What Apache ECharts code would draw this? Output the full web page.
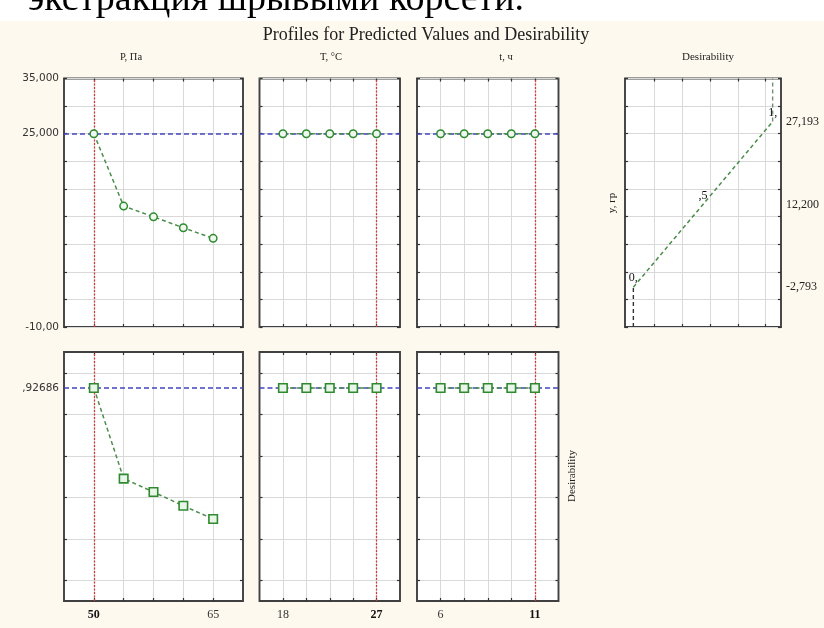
<!DOCTYPE html>
<html>
<head>
<meta charset="utf-8">
<script src="https://cdn.jsdelivr.net/npm/echarts@6/dist/echarts.min.js"></script>
<style>
html,body{margin:0;padding:0;background:#fdf9ee;}
#chart{width:824px;height:628px;}
</style>
</head>
<body>
<div id="chart"></div>
<script>
// ---- data ----
const pValues    = [50, 53.75, 57.5, 61.25, 65];
const tempValues = [18, 20.25, 22.5, 24.75, 27];
const timeValues = [6, 7.25, 8.5, 9.75, 11];
const predP    = [25.0, 11.9, 9.95, 7.97, 6.05];
const predTemp = [25.0, 25.0, 25.0, 25.0, 25.0];
const predTime = [25.0, 25.0, 25.0, 25.0, 25.0];
const desP    = [0.92686, 0.490, 0.425, 0.359, 0.295];
const desTemp = [0.92686, 0.92686, 0.92686, 0.92686, 0.92686];
const desTime = [0.92686, 0.92686, 0.92686, 0.92686, 0.92686];
const currentP = 50, currentTemp = 27, currentTime = 11;
const predictedValue = 25.0;
const currentDesirability = 0.92686;
const desirLevels  = [0, 0.5, 1];
const desirYValues = [-2.793, 12.2, 27.193];
const desirLabels  = ['0,', ',5', '1,'];
const topYTickValues = [35, 25, -10];
const topYTickLabels = ['35,000', '25,000', '-10,00'];
const desLabelText = ',92686';
const xLabelP = [50, 65], xLabelTemp = [18, 27], xLabelTime = [6, 11];
const panelTitles = ['P, Па', 'T, °C', 't, ч', 'Desirability'];
const mainTitle = 'Profiles for Predicted Values and Desirability';
const topText = 'экстракция шрывыми корсети.';

// ---- layout ----
const TOP1 = 78.5, H1 = 248.5, TOP2 = 352, H2 = 249;
const cols = [{left: 64, width: 179}, {left: 259.5, width: 140.5}, {left: 417, width: 141.5}];
const desGrid = {left: 625, width: 156};
const yTop = {min: -10, max: 35};
const yBot = {min: -0.1, max: 1.1};
const xRanges = [
  {min: 46.25, max: 68.75, ticks: pValues, labels: xLabelP, cur: currentP},
  {min: 15.75, max: 29.25, ticks: tempValues, labels: xLabelTemp, cur: currentTemp},
  {min: 4.75, max: 12.25, ticks: timeValues, labels: xLabelTime, cur: currentTime}
];
const topYTicks = [-10,-5,0,5,10,15,20,25,30,35];
const botYTicks = [0,0.2,0.4,0.6,0.8,1.0];
const desXTicks = [0.15,0.35,0.55,0.75,0.95];

const serif = 'Liberation Serif';
const sans = 'DejaVu Sans';
const gridCol = '#d9d9d9';
const tickCol = '#333';

const grids = [], xAxes = [], yAxes = [], series = [];

function addGrid(left, top, width, height) {
  grids.push({left, top, width, height, show: true, backgroundColor: '#fff',
    borderColor: '#404040', borderWidth: 1.9, containLabel: false});
  return grids.length - 1;
}
function tick(vals) {
  return {show: true, inside: true, length: 3, customValues: vals, lineStyle: {color: tickCol, width: 1.2}};
}
function addX(gi, min, max, ticks, labelOpt) {
  const idx = xAxes.length;
  xAxes.push({gridIndex: gi, type: 'value', position: 'bottom', min, max,
    axisLine: {show: false, onZero: false}, axisTick: tick(ticks),
    splitLine: {show: true, lineStyle: {color: gridCol, width: 1}},
    axisLabel: labelOpt || {show: false}});
  xAxes.push({gridIndex: gi, type: 'value', position: 'top', min, max,
    axisLine: {show: false, onZero: false}, axisTick: tick(ticks), splitLine: {show: false}, axisLabel: {show: false}});
  return idx;
}
function addY(gi, min, max, ticks, labelOpt, rightLabelOpt) {
  const idx = yAxes.length;
  yAxes.push({gridIndex: gi, type: 'value', position: 'left', min, max,
    axisLine: {show: false, onZero: false}, axisTick: tick(ticks),
    splitLine: {show: true, lineStyle: {color: gridCol, width: 1}},
    axisLabel: labelOpt || {show: false}});
  yAxes.push({gridIndex: gi, type: 'value', position: 'right', min, max,
    axisLine: {show: false, onZero: false}, axisTick: tick(ticks), splitLine: {show: false},
    axisLabel: rightLabelOpt || {show: false}});
  return idx;
}

const blueLine = {color: '#4646c0', type: [5, 3], width: 1.5};
const redLine = {color: '#d03c3c', type: [2, 1.5], width: 1.3};
const greenCol = '#2f8a2f';
const greenLine = {color: '#4a8c4a', type: [4, 3], width: 1.5};

const xVals = [pValues, tempValues, timeValues];
const topData = [predP, predTemp, predTime];
const botData = [desP, desTemp, desTime];

// top row
for (let i = 0; i < 3; i++) {
  const gi = addGrid(cols[i].left, TOP1, cols[i].width, H1);
  const r = xRanges[i];
  const xi = addX(gi, r.min, r.max, r.ticks);
  const yi = addY(gi, yTop.min, yTop.max, topYTicks, i === 0 ? {
    show: true, customValues: topYTickValues, margin: 5,
    fontFamily: sans, fontSize: 10.5, color: '#333',
    formatter: v => topYTickLabels[topYTickValues.indexOf(v)] || ''
  } : null);
  series.push({type: 'line', xAxisIndex: xi, yAxisIndex: yi,
    data: xVals[i].map((x, k) => [x, topData[i][k]]),
    lineStyle: greenLine, symbol: 'circle', symbolSize: 7.5,
    itemStyle: {color: '#eef8ee', borderColor: greenCol, borderWidth: 1.5},
    z: 5, silent: true, animation: false,
    markLine: {silent: true, symbol: 'none', label: {show: false}, animation: false,
      data: [{yAxis: predictedValue, lineStyle: blueLine}, {xAxis: r.cur, lineStyle: redLine}]}
  });
}
// bottom row
for (let i = 0; i < 3; i++) {
  const gi = addGrid(cols[i].left, TOP2, cols[i].width, H2);
  const r = xRanges[i];
  const xi = addX(gi, r.min, r.max, r.ticks, {
    show: true, customValues: r.labels, margin: 8,
    fontFamily: serif, fontSize: 12, color: '#222',
    formatter: v => (v === r.cur ? '{b|' + v + '}' : '{n|' + v + '}'),
    rich: {b: {fontWeight: 'bold', fontFamily: serif, fontSize: 12, color: '#111'},
           n: {fontFamily: serif, fontSize: 12, color: '#333'}}
  });
  const yi = addY(gi, yBot.min, yBot.max, botYTicks, i === 0 ? {
    show: true, customValues: [currentDesirability], margin: 5,
    fontFamily: sans, fontSize: 10.5, color: '#333',
    formatter: () => desLabelText
  } : null);
  series.push({type: 'line', xAxisIndex: xi, yAxisIndex: yi,
    data: xVals[i].map((x, k) => [x, botData[i][k]]),
    lineStyle: greenLine, symbol: 'rect', symbolSize: 8.5,
    itemStyle: {color: '#e8f5e8', borderColor: greenCol, borderWidth: 1.6},
    z: 5, silent: true, animation: false,
    markLine: {silent: true, symbol: 'none', label: {show: false}, animation: false,
      data: [{yAxis: currentDesirability, lineStyle: blueLine}, {xAxis: r.cur, lineStyle: redLine}]}
  });
}
// desirability panel
{
  const gi = addGrid(desGrid.left, TOP1, desGrid.width, H1);
  const xi = addX(gi, -0.06, 1.06, desXTicks);
  const yi = addY(gi, yTop.min, yTop.max, topYTicks, null, {
    show: true, customValues: desirYValues, margin: 5,
    fontFamily: serif, fontSize: 12, color: '#222',
    formatter: v => v.toFixed(3).replace('.', ',')
  });
  series.push({type: 'line', xAxisIndex: xi, yAxisIndex: yi,
    data: [[desirLevels[0], yTop.min], [desirLevels[0], desirYValues[0]]],
    lineStyle: {color: '#333', type: [4, 3], width: 1.4}, symbol: 'none', silent: true, animation: false});
  series.push({type: 'line', xAxisIndex: xi, yAxisIndex: yi,
    data: desirLevels.map((d, k) => [d, desirYValues[k]]),
    lineStyle: greenLine, symbol: 'circle', symbolSize: 2, showSymbol: true,
    itemStyle: {color: 'rgba(0,0,0,0)', borderWidth: 0},
    label: {show: true, position: 'top', distance: 2, fontFamily: serif, fontSize: 12, color: '#111',
      formatter: p => desirLabels[p.dataIndex]},
    silent: true, animation: false, z: 6});
  series.push({type: 'line', xAxisIndex: xi, yAxisIndex: yi,
    data: [[desirLevels[2], desirYValues[2]], [desirLevels[2], yTop.max]],
    lineStyle: {color: '#6f8f6f', type: [4, 3], width: 1.4}, symbol: 'none', silent: true, animation: false});
}

const graphic = [
  {type: 'rect', shape: {x: 0, y: 0, width: 824, height: 21}, style: {fill: '#fff'}, z: 0},
  {type: 'text', x: 28, y: 0, z: 1, style: {text: topText, font: '38px "Liberation Serif"', fill: '#000', verticalAlign: 'middle', align: 'left'}},
  {type: 'text', x: 426, y: 35, style: {text: mainTitle, font: '18px "Liberation Serif"', fill: '#222', align: 'center', verticalAlign: 'middle'}},
  {type: 'text', x: 131, y: 57, style: {text: panelTitles[0], font: '10.5px "Liberation Serif"', fill: '#222', align: 'center', verticalAlign: 'middle'}},
  {type: 'text', x: 331, y: 57, style: {text: panelTitles[1], font: '10.5px "Liberation Serif"', fill: '#222', align: 'center', verticalAlign: 'middle'}},
  {type: 'text', x: 506, y: 57, style: {text: panelTitles[2], font: '10.5px "Liberation Serif"', fill: '#222', align: 'center', verticalAlign: 'middle'}},
  {type: 'text', x: 708, y: 57, style: {text: panelTitles[3], font: '11px "Liberation Serif"', fill: '#222', align: 'center', verticalAlign: 'middle'}},
  {type: 'text', x: 612, y: 203, rotation: Math.PI / 2, style: {text: 'y, гр', font: '11px "Liberation Serif"', fill: '#222', align: 'center', verticalAlign: 'middle'}},
  {type: 'text', x: 572, y: 476, rotation: Math.PI / 2, style: {text: 'Desirability', font: '11px "Liberation Serif"', fill: '#222', align: 'center', verticalAlign: 'middle'}}
];

const chart = echarts.init(document.getElementById('chart'), null, {renderer: 'canvas'});
chart.setOption({
  backgroundColor: '#fdf9ee',
  animation: false,
  grid: grids, xAxis: xAxes, yAxis: yAxes, series, graphic
});
</script>
</body>
</html>
